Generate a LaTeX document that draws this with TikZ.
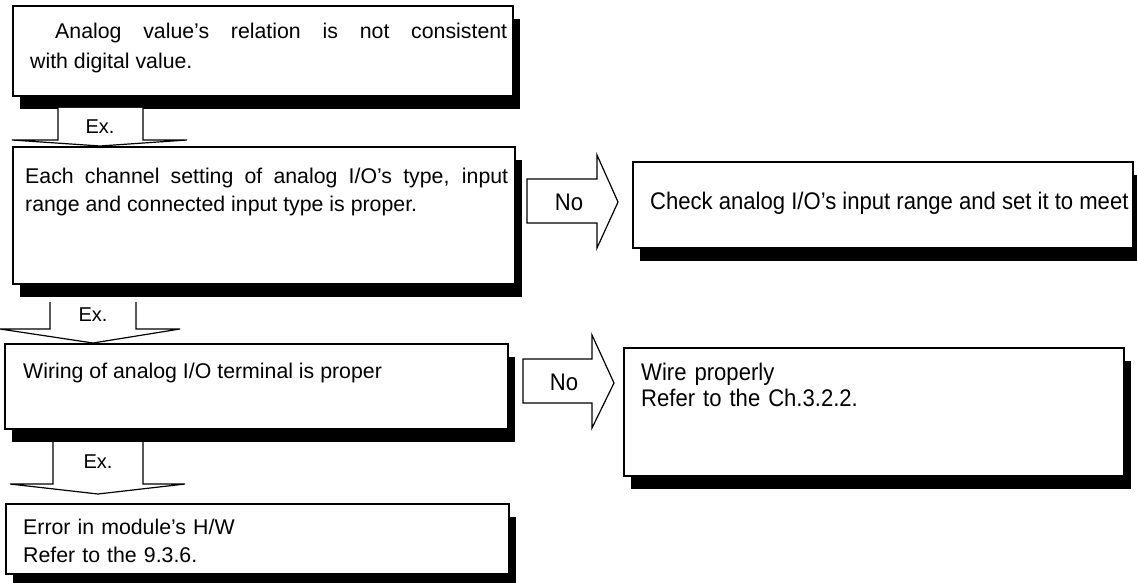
\documentclass[tikz,border=0pt]{standalone}
\usepackage{fontspec}
\setmainfont{Liberation Sans}
\newfontfamily\narrowfont[FakeStretch=0.92]{Liberation Sans}
\usetikzlibrary{calc,shadows}

\tikzset{
  chkbox/.style={draw, line width=2pt, fill=white, anchor=north west, inner sep=0pt,
    drop shadow={shadow xshift=7pt, shadow yshift=-13pt, fill=black, opacity=1}},
  fat/.style={draw, line width=1.2pt, fill=white, line join=miter},
  txt/.style={anchor=base west, inner sep=0pt, font=\fontsize{21.3}{28}\selectfont},
  ntxt/.style={anchor=base west, inner sep=0pt, font=\narrowfont\fontsize{24}{26}\selectfont},
  exlbl/.style={inner sep=0pt, font=\fontsize{20}{22}\selectfont},
  nolbl/.style={inner sep=0pt, font=\narrowfont\fontsize{24}{26}\selectfont},
}

\begin{document}
\begin{tikzpicture}[x=1pt,y=-1pt]
  \useasboundingbox (0,0) rectangle (1137,583);
  % check boxes
  \node[chkbox, minimum width=500pt, minimum height=90pt] (b1) at (12,5) {};
  \node[chkbox, minimum width=502pt, minimum height=137pt] (b2) at (12,146) {};
  \node[chkbox, minimum width=503pt, minimum height=85pt] (b3) at (4,343) {};
  \node[chkbox, minimum width=503pt, minimum height=70pt] (b4) at (5,503) {};
  \node[chkbox, minimum width=500pt, minimum height=86pt] (b5) at (632,161) {};
  \node[chkbox, minimum width=500pt, minimum height=128pt] (b6) at (623,347) {};

  % texts
  \node[txt, text width=477pt, align=justify, font=\fontsize{21.3}{30}\selectfont] (t1) at (30,39)
    {\hspace*{25pt}Analog value’s relation is not consistent\linebreak with digital value.};
  \node[txt, text width=483pt, align=justify] (t2) at (25,183)
    {Each channel setting of analog I/O’s type, input range and connected input type is proper.};
  \node[txt] (t3) at (23,378) {Wiring of analog I/O terminal is proper};
  \node[txt, text width=400pt, align=left] (t4) at (23,534) {Error in module’s H/W\\Refer to the 9.3.6.};
  \node[ntxt] (t5) at (650,209) {Check analog I/O’s input range and set it to meet};
  \node[ntxt, text width=400pt, align=left] (t6) at (641,380) {Wire properly\\Refer to the Ch.3.2.2.};

  % Ex. arrows
  \draw[fat] ($(b1.south west)+(46,11)$) coordinate (s1) -- ++(0,32) -- ++(-46,0)
    -- ($(b2.north west)+(88,0)$) -- ($(s1)+(129,32)$) -- ++(-44,0) -- ++(0,-32);
  \node[exlbl] (x1) at ($(s1)+(42,19)$) {Ex.};
  \draw[fat] ($(b2.south west)+(38,17)$) coordinate (s2) -- ++(0,27) -- ++(-50,0)
    -- ($(b3.north west)+(89,0)$) -- ($(s2)+(130,27)$) -- ++(-44,0) -- ++(0,-27);
  \node[exlbl] (x2) at ($(s2)+(43,13)$) {Ex.};
  \draw[fat] ($(b3.south west)+(49,12)$) coordinate (s3) -- ++(0,42) -- ++(-43,0)
    -- ($(b4.north west)+(93,-9)$) -- ($(s3)+(132,42)$) -- ++(-42,0) -- ++(0,-42);
  \node[exlbl] (x3) at ($(s3)+(45,20)$) {Ex.};

  % No arrows
  \draw[fat] ($(b2.north east)+(11,33)$) coordinate (r1) -- ++(70,0) -- ++(0,-24)
    -- ($(b5.west)+(-14,-3)$) -- ($(r1)+(70,69)$) -- ++(0,-25) -- ++(-70,0) -- cycle;
  \node[nolbl] (n1) at ($(r1)+(42,23)$) {No};
  \draw[fat] ($(b3.north east)+(14,16)$) coordinate (r2) -- ++(69,0) -- ++(0,-24)
    -- ($(b6.west)+(-9,-29)$) -- ($(r2)+(69,69)$) -- ++(0,-25) -- ++(-69,0) -- cycle;
  \node[nolbl] (n2) at ($(r2)+(41,23)$) {No};
\end{tikzpicture}
\end{document}
